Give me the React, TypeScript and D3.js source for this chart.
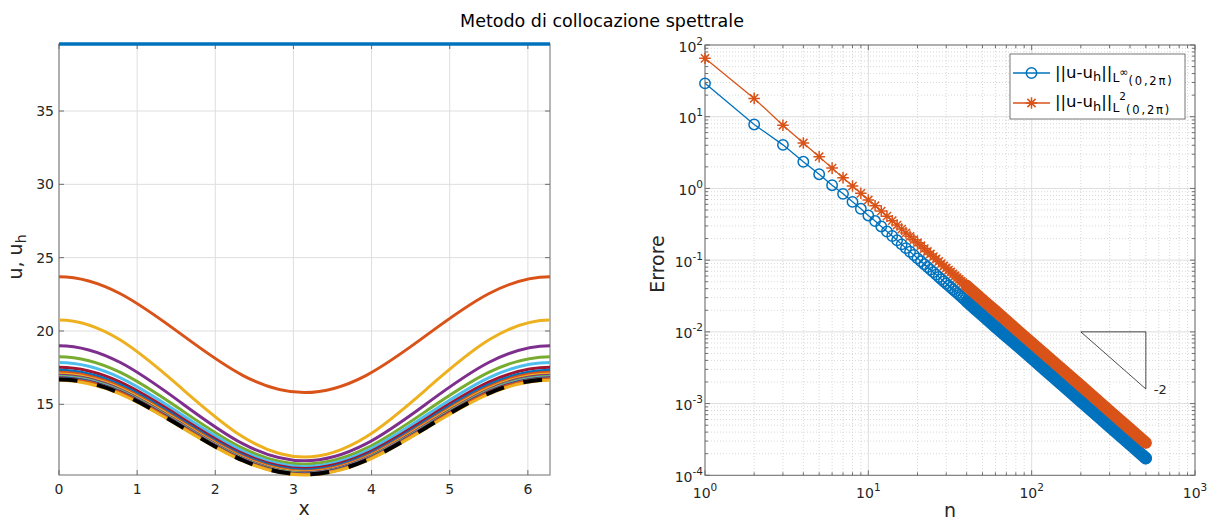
import React from 'react';
import * as d3 from 'd3';

// ---------------- data ----------------
const TITLE = 'Metodo di collocazione spettrale';
const PI = Math.PI;
// sample abscissae of the left panel (x in [0, 2pi])
const xSamples = [0, PI / 4, PI / 2, (3 * PI) / 4, PI, (5 * PI) / 4, (3 * PI) / 2, (7 * PI) / 4, 2 * PI];

// numerical solutions u_h (n = 1..17) read at xSamples
const uh1 = [39.57, 39.57, 39.57, 39.57, 39.57, 39.57, 39.57, 39.57, 39.57];
const uh2 = [23.7, 22.54, 19.75, 16.96, 15.8, 16.96, 19.75, 22.54, 23.7];
const uh3 = [20.75, 19.38, 16.08, 12.77, 11.4, 12.77, 16.08, 19.38, 20.75];
const uh4 = [19.0, 17.85, 15.08, 12.3, 11.15, 12.3, 15.08, 17.85, 19.0];
const uh5 = [18.25, 17.18, 14.59, 11.99, 10.92, 11.99, 14.59, 17.18, 18.25];
const uh6 = [17.85, 16.81, 14.3, 11.79, 10.75, 11.79, 14.3, 16.81, 17.85];
const uh7 = [17.52, 16.51, 14.07, 11.63, 10.62, 11.63, 14.07, 16.51, 17.52];
const uh8 = [17.32, 16.32, 13.92, 11.52, 10.52, 11.52, 13.92, 16.32, 17.32];
const uh9 = [17.18, 16.19, 13.81, 11.43, 10.44, 11.43, 13.81, 16.19, 17.18];
const uh10 = [17.07, 16.09, 13.73, 11.36, 10.38, 11.36, 13.73, 16.09, 17.07];
const uh11 = [16.98, 16.01, 13.66, 11.31, 10.33, 11.31, 13.66, 16.01, 16.98];
const uh12 = [16.92, 15.95, 13.61, 11.27, 10.3, 11.27, 13.61, 15.95, 16.92];
const uh13 = [16.87, 15.9, 13.57, 11.24, 10.27, 11.24, 13.57, 15.9, 16.87];
const uh14 = [16.82, 15.86, 13.54, 11.22, 10.25, 11.22, 13.54, 15.86, 16.82];
const uh15 = [16.78, 15.82, 13.51, 11.19, 10.23, 11.19, 13.51, 15.82, 16.78];
const uh16 = [16.74, 15.79, 13.48, 11.17, 10.21, 11.17, 13.48, 15.79, 16.74];
const uh17 = [16.64, 15.69, 13.41, 11.13, 10.18, 11.13, 13.41, 15.69, 16.64];
const uExact = [16.7, 15.75, 13.46, 11.17, 10.22, 11.17, 13.46, 15.75, 16.7];
const uhSeries = [uh1, uh2, uh3, uh4, uh5, uh6, uh7, uh8, uh9, uh10, uh11, uh12, uh13, uh14, uh15, uh16, uh17];

const xTicksLeft = [0, 1, 2, 3, 4, 5, 6];
const yTicksLeft = [15, 20, 25, 30, 35];

// error vs n (right panel)
const nValues = [1, 2, 3, 4, 5, 6, 7, 8, 9, 10, 11, 12, 13, 14, 15, 16, 17, 18, 19, 20, 21, 22, 23, 24, 25, 26, 27, 28, 29, 30, 31, 32, 33, 34, 35, 36, 37, 38, 39, 40, 45, 50, 60, 70, 80, 100, 120, 150, 200, 250, 300, 400, 500];
const errLinf = [29.2, 7.8, 4.05, 2.35, 1.58, 1.11, 0.84, 0.65, 0.52, 0.42, 0.351, 0.295, 0.251, 0.217, 0.189, 0.166, 0.147, 0.131, 0.118, 0.106, 0.0964, 0.0878, 0.0803, 0.0738, 0.068, 0.0629, 0.0583, 0.0542, 0.0505, 0.0472, 0.0442, 0.0415, 0.039, 0.0368, 0.0347, 0.0328, 0.031, 0.0294, 0.0279, 0.0266, 0.021, 0.017, 0.0118, 0.00871, 0.00669, 0.0043, 0.00299, 0.00191, 0.00108, 0.00069, 0.00048, 0.00027, 0.000173];
const errL2 = [65.2, 18.0, 7.6, 4.3, 2.77, 1.92, 1.41, 1.08, 0.855, 0.69, 0.574, 0.483, 0.411, 0.355, 0.309, 0.271, 0.24, 0.215, 0.193, 0.175, 0.159, 0.145, 0.132, 0.122, 0.112, 0.104, 0.096, 0.0893, 0.0832, 0.0778, 0.0728, 0.0684, 0.0643, 0.0606, 0.0571, 0.054, 0.0511, 0.0485, 0.046, 0.0438, 0.0347, 0.0281, 0.0196, 0.0144, 0.011, 0.00707, 0.00492, 0.00315, 0.00178, 0.00114, 0.000789, 0.000444, 0.000284];

const triN = [200, 500, 500];
const triErr = [1e-2, 1e-2, 1.6e-3];
const slopeLabel = '-2';

const xExpsRight = [0, 1, 2, 3];
const yExpsRight = [-4, -3, -2, -1, 0, 1, 2];

const PALETTE = ['#0072BD', '#D95319', '#EDB120', '#7E2F8E', '#77AC30', '#4DBEEE', '#A2142F'];
const BLUE = '#0072BD';
const ORANGE = '#D95319';

// ---------------- layout ----------------
const W = 1212;
const H = 520;
const L = { x0: 59, x1: 550, y0: 44, y1: 475 };
const R = { x0: 705, x1: 1195, y0: 45, y1: 475.3 };
const FONT = '"DejaVu Sans", Verdana, sans-serif';
const TXT = '#262626';
const AX = '#6e6e6e';
const GRID = '#dedede';
const MINOR = '#cfcfcf';

const xL = d3.scaleLinear().domain([0, 2 * PI]).range([L.x0, L.x1]);
const yL = d3.scaleLinear().domain([10.18, 39.57]).range([L.y1, L.y0]);
const xR = d3.scaleLog().domain([1, 1000]).range([R.x0, R.x1]);
const yR = d3.scaleLog().domain([1e-4, 1e2]).range([R.y1, R.y0]);

function extended(vals: number[]) {
  // periodic wrap (two samples each side) so the spline is smooth at the ends
  const n = vals.length;
  const step = xSamples[1] - xSamples[0];
  const xs = [xSamples[0] - 2 * step, xSamples[0] - step, ...xSamples, xSamples[n - 1] + step, xSamples[n - 1] + 2 * step];
  const ys = [vals[n - 3], vals[n - 2], ...vals, vals[1], vals[2]];
  return { xs, ys };
}

function curvePath(vals: number[]) {
  const { xs, ys } = extended(vals);
  const line = d3
    .line<number>()
    .x((_, i) => xL(xs[i]))
    .y((d) => yL(d))
    .curve(d3.curveNatural);
  return line(ys) || '';
}

function starPath(cx: number, cy: number, s: number) {
  const d = s * 0.707;
  return `M${cx - s},${cy}H${cx + s}M${cx},${cy - s}V${cy + s}M${cx - d},${cy - d}L${cx + d},${cy + d}M${cx - d},${cy + d}L${cx + d},${cy - d}`;
}

function minorLogValues(lo: number, hi: number) {
  const out: number[] = [];
  for (let e = lo; e < hi; e++) for (let k = 2; k <= 9; k++) out.push(k * Math.pow(10, e));
  return out;
}

export default function App() {
  const lineR = d3
    .line<number>()
    .x((_, i) => xR(nValues[i]))
    .curve(d3.curveLinear);
  const bandStart = nValues.indexOf(40);
  const bandN = nValues.slice(bandStart);
  const bandLine = (errs: number[]) =>
    d3
      .line<number>()
      .x((_, i) => xR(bandN[i]))
      .y((d) => yR(d))(errs.slice(bandStart)) || '';

  const minorX = minorLogValues(0, 3);
  const minorY = minorLogValues(-4, 2);

  const ext = extended(uExact);
  const extLen =
    Math.hypot(xL(ext.xs[1]) - xL(ext.xs[0]), yL(ext.ys[1]) - yL(ext.ys[0])) +
    Math.hypot(xL(ext.xs[2]) - xL(ext.xs[1]), yL(ext.ys[2]) - yL(ext.ys[1]));

  const triPath =
    d3
      .line<number>()
      .x((_, i) => xR(triN[i]))
      .y((d) => yR(d))(triErr) + 'Z';

  return (
    <svg width={W} height={H} style={{ position: 'absolute', left: 0, top: 0, display: 'block', background: '#fff' }} fontFamily={FONT}>
      <defs>
        <clipPath id="clipL">
          <rect x={L.x0} y={0} width={L.x1 - L.x0} height={H} />
        </clipPath>
      </defs>
      <rect x={0} y={0} width={W} height={H} fill="#fff" />

      {/* title */}
      <text x={602} y={27} textAnchor="middle" fontSize={17.5} fill="#000">
        {TITLE}
      </text>

      {/* ================= LEFT PANEL ================= */}
      <g>
        {xTicksLeft.map((t) => (
          <line key={'gx' + t} x1={xL(t)} x2={xL(t)} y1={L.y0} y2={L.y1} stroke={GRID} strokeWidth={1} />
        ))}
        {yTicksLeft.map((t) => (
          <line key={'gy' + t} x1={L.x0} x2={L.x1} y1={yL(t)} y2={yL(t)} stroke={GRID} strokeWidth={1} />
        ))}
        <rect x={L.x0} y={L.y0} width={L.x1 - L.x0} height={L.y1 - L.y0} fill="none" stroke={AX} strokeWidth={1} />
        {xTicksLeft.map((t) => (
          <g key={'tx' + t}>
            <line x1={xL(t)} x2={xL(t)} y1={L.y1} y2={L.y1 - 5} stroke={AX} />
            <line x1={xL(t)} x2={xL(t)} y1={L.y0} y2={L.y0 + 5} stroke={AX} />
            <text x={xL(t)} y={494} textAnchor="middle" fontSize={14} fill={TXT}>
              {t}
            </text>
          </g>
        ))}
        {yTicksLeft.map((t) => (
          <g key={'ty' + t}>
            <line x1={L.x0} x2={L.x0 + 5} y1={yL(t)} y2={yL(t)} stroke={AX} />
            <line x1={L.x1} x2={L.x1 - 5} y1={yL(t)} y2={yL(t)} stroke={AX} />
            <text x={54} y={yL(t) + 5} textAnchor="end" fontSize={14} fill={TXT}>
              {t}
            </text>
          </g>
        ))}
        <g clipPath="url(#clipL)">
          {uhSeries.map((s, i) => (
            <path key={'c' + i} d={curvePath(s)} fill="none" stroke={PALETTE[i % PALETTE.length]} strokeWidth={i === 0 ? 3.5 : 3} />
          ))}
          <path
            d={curvePath(uExact)}
            fill="none"
            stroke="#000"
            strokeWidth={4}
            strokeDasharray="19,20"
            strokeDashoffset={-extLen}
          />
        </g>
        <text x={304} y={515} textAnchor="middle" fontSize={19} fill={TXT}>
          x
        </text>
        <text transform="translate(22,257) rotate(-90)" textAnchor="middle" fontSize={19} fill={TXT}>
          u, u
          <tspan fontSize={14} dy={4}>
            h
          </tspan>
        </text>
      </g>

      {/* ================= RIGHT PANEL ================= */}
      <g>
        {minorX.map((v) => (
          <line key={'mgx' + v} x1={xR(v)} x2={xR(v)} y1={R.y0} y2={R.y1} stroke={MINOR} strokeWidth={0.8} strokeDasharray="1,2" />
        ))}
        {minorY.map((v) => (
          <line key={'mgy' + v} x1={R.x0} x2={R.x1} y1={yR(v)} y2={yR(v)} stroke={MINOR} strokeWidth={0.8} strokeDasharray="1,2" />
        ))}
        {xExpsRight.map((e) => (
          <line key={'gxr' + e} x1={xR(Math.pow(10, e))} x2={xR(Math.pow(10, e))} y1={R.y0} y2={R.y1} stroke={GRID} strokeWidth={1} />
        ))}
        {yExpsRight.map((e) => (
          <line key={'gyr' + e} x1={R.x0} x2={R.x1} y1={yR(Math.pow(10, e))} y2={yR(Math.pow(10, e))} stroke={GRID} strokeWidth={1} />
        ))}
        <rect x={R.x0} y={R.y0} width={R.x1 - R.x0} height={R.y1 - R.y0} fill="none" stroke={AX} strokeWidth={1} />
        {minorX.map((v) => (
          <g key={'mtx' + v}>
            <line x1={xR(v)} x2={xR(v)} y1={R.y1} y2={R.y1 - 3} stroke={AX} />
            <line x1={xR(v)} x2={xR(v)} y1={R.y0} y2={R.y0 + 3} stroke={AX} />
          </g>
        ))}
        {minorY.map((v) => (
          <g key={'mty' + v}>
            <line x1={R.x0} x2={R.x0 + 3} y1={yR(v)} y2={yR(v)} stroke={AX} />
            <line x1={R.x1} x2={R.x1 - 3} y1={yR(v)} y2={yR(v)} stroke={AX} />
          </g>
        ))}
        {xExpsRight.map((e) => {
          const x = xR(Math.pow(10, e));
          return (
            <g key={'txr' + e}>
              <line x1={x} x2={x} y1={R.y1} y2={R.y1 - 5} stroke={AX} />
              <line x1={x} x2={x} y1={R.y0} y2={R.y0 + 5} stroke={AX} />
              <text x={x} y={497.5} textAnchor="middle" fontSize={14} fill={TXT}>
                10
                <tspan fontSize={10.5} dy={-7}>
                  {e}
                </tspan>
              </text>
            </g>
          );
        })}
        {yExpsRight.map((e) => {
          const y = yR(Math.pow(10, e));
          return (
            <g key={'tyr' + e}>
              <line x1={R.x0} x2={R.x0 + 5} y1={y} y2={y} stroke={AX} />
              <line x1={R.x1} x2={R.x1 - 5} y1={y} y2={y} stroke={AX} />
              <text x={703} y={y + 6.5} textAnchor="end" fontSize={14} fill={TXT}>
                10
                <tspan fontSize={10.5} dy={-7}>
                  {e}
                </tspan>
              </text>
            </g>
          );
        })}

        {/* L-inf series */}
        <path d={lineR.y((d) => yR(d))(errLinf) || ''} fill="none" stroke={BLUE} strokeWidth={1.3} />
        <path d={bandLine(errLinf)} fill="none" stroke={BLUE} strokeWidth={12.5} strokeLinecap="round" strokeLinejoin="round" />
        {nValues.map((n, i) => (
          <circle key={'o' + n} cx={xR(n)} cy={yR(errLinf[i])} r={5.2} fill="none" stroke={BLUE} strokeWidth={1.5} />
        ))}
        {/* L2 series */}
        <path d={lineR.y((d) => yR(d))(errL2) || ''} fill="none" stroke={ORANGE} strokeWidth={1.3} />
        <path d={bandLine(errL2)} fill="none" stroke={ORANGE} strokeWidth={12} strokeLinecap="round" strokeLinejoin="round" />
        {nValues.map((n, i) => (
          <path key={'s' + n} d={starPath(xR(n), yR(errL2[i]), 5.8)} fill="none" stroke={ORANGE} strokeWidth={1.5} />
        ))}

        {/* slope triangle */}
        <path d={triPath} fill="none" stroke="#000" strokeWidth={0.7} />
        <text x={xR(triN[2]) + 8} y={yR(triErr[2]) + 5} fontSize={13} fill={TXT}>
          {slopeLabel}
        </text>

        {/* legend */}
        <rect x={1010} y={54} width={175} height={65} fill="#fff" stroke="#555" strokeWidth={0.8} />
        <line x1={1013} x2={1050} y1={73} y2={73} stroke={BLUE} strokeWidth={1.3} />
        <circle cx={1031.5} cy={73} r={5.2} fill="none" stroke={BLUE} strokeWidth={1.5} />
        <text x={1055} y={77.5} fontSize={16.5} fill="#000">
          ||u-u
          <tspan fontSize={13} dy={3.5}>h</tspan>
          <tspan fontSize={16.5} dy={-3.5}>||</tspan>
          <tspan fontSize={12.5} dy={4.5}>L</tspan>
          <tspan fontSize={11} dy={-6.5}>∞</tspan>
          <tspan fontSize={11.5} dy={9} letterSpacing={1.8}>(0,2π)</tspan>
        </text>
        <line x1={1013} x2={1050} y1={103} y2={103} stroke={ORANGE} strokeWidth={1.3} />
        <path d={starPath(1031.5, 103, 5.8)} fill="none" stroke={ORANGE} strokeWidth={1.5} />
        <text x={1055} y={107} fontSize={16.5} fill="#000">
          ||u-u
          <tspan fontSize={13} dy={3.5}>h</tspan>
          <tspan fontSize={16.5} dy={-3.5}>||</tspan>
          <tspan fontSize={12.5} dy={4.5}>L</tspan>
          <tspan fontSize={10.5} dy={-12}>2</tspan>
          <tspan fontSize={11.5} dy={14} letterSpacing={1.8}>(0,2π)</tspan>
        </text>

        <text x={950} y={517} textAnchor="middle" fontSize={19} fill={TXT}>
          n
        </text>
        <text transform="translate(664,264) rotate(-90)" textAnchor="middle" fontSize={19} fill={TXT}>
          Errore
        </text>
      </g>
    </svg>
  );
}
